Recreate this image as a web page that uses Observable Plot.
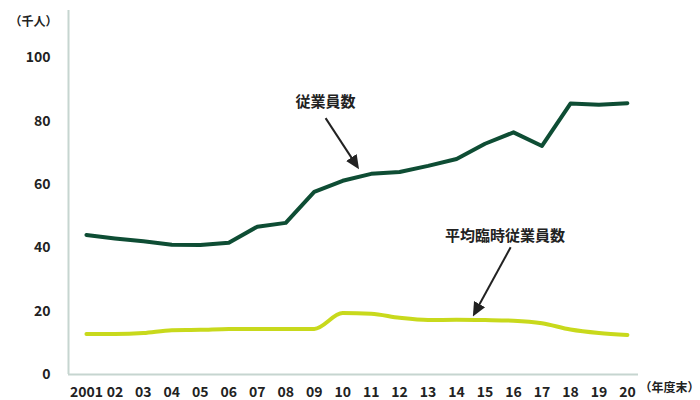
<!DOCTYPE html>
<html>
<head>
<meta charset="utf-8">
<script src="https://cdn.jsdelivr.net/npm/d3@7"></script>
<script src="https://cdn.jsdelivr.net/npm/@observablehq/plot@0.6"></script>
<style>
  html, body { margin: 0; padding: 0; background: #fff; }
  #chart svg { display: block; }
</style>
</head>
<body>
<div id="chart"></div>
<script>
const years = [2001,2002,2003,2004,2005,2006,2007,2008,2009,2010,2011,2012,2013,2014,2015,2016,2017,2018,2019,2020];
const yearLabels = ["2001","02","03","04","05","06","07","08","09","10","11","12","13","14","15","16","17","18","19","20"];
const employees = [44.1,43.0,42.1,41.0,40.9,41.6,46.7,47.9,57.7,61.2,63.4,64.0,65.9,68.1,72.9,76.5,72.2,85.6,85.2,85.7];
const temporary = [12.8,12.8,13.1,14.0,14.1,14.4,14.4,14.4,14.4,19.4,19.2,17.9,17.2,17.3,17.2,17.0,16.2,14.2,13.1,12.5];
const yTicks = [0,20,40,60,80,100];
const annotations = [
  {label: "従業員数", x: 2009.4, y: 86.1, x1: 2009.4, y1: 81.0, x2: 2010.44, y2: 66.7},
  {label: "平均臨時従業員数", x: 2015.7, y: 43.8, x1: 2015.9, y1: 40.2, x2: 2014.69, y2: 20.3}
];

const font = "'Noto Sans CJK JP', 'Noto Sans', sans-serif";
const xMin = 2000.37, xMax = 2020.39;
const empData = years.map((y, i) => ({year: y, value: employees[i]}));
const tmpData = years.map((y, i) => ({year: y, value: temporary[i]}));

const plot = Plot.plot({
  width: 700,
  height: 400,
  marginLeft: 68,
  marginRight: 62,
  marginTop: 10,
  marginBottom: 26,
  style: {fontFamily: font, background: "#fff"},
  x: {domain: [xMin, xMax], ticks: years, tickFormat: (d) => yearLabels[years.indexOf(d)], tickSize: 0, tickPadding: 13, label: null},
  y: {domain: [0, 115], ticks: yTicks, tickSize: 0, tickPadding: 18, label: null},
  marks: [
    Plot.ruleY([0], {stroke: "#c6d5d0", strokeWidth: 2}),
    Plot.ruleX([xMin], {stroke: "#c6d5d0", strokeWidth: 2}),
    Plot.line(tmpData, {x: "year", y: "value", stroke: "#c8d91c", strokeWidth: 4, curve: "monotone-x"}),
    Plot.line(empData, {x: "year", y: "value", stroke: "#0e4d34", strokeWidth: 4}),
    Plot.link(annotations, {x1: "x1", y1: "y1", x2: "x2", y2: "y2", stroke: "#222", strokeWidth: 2, markerEnd: "arrow"}),
    Plot.text(annotations, {x: "x", y: "y", text: "label", fontSize: 15, fontWeight: "bold", fill: "#222"}),
    Plot.text(["（千人）"], {frameAnchor: "top-left", textAnchor: "middle", dx: -35, dy: 7, text: d => d, fontSize: 12, fontWeight: "bold", fill: "#222"}),
    Plot.text(["（年度末）"], {frameAnchor: "bottom-right", textAnchor: "start", dx: 1, dy: 17, text: d => d, fontSize: 12, fontWeight: "bold", fill: "#222"})
  ]
});

d3.select(plot).selectAll("g[aria-label='x-axis tick label'], g[aria-label='y-axis tick label'], g[aria-label='x-axis'], g[aria-label='y-axis']")
  .attr("font-size", 14).attr("font-weight", "bold").attr("fill", "#222");

// filled arrowheads
d3.select(plot).selectAll("marker").each(function() {
  const m = d3.select(this);
  m.attr("fill", "#222").attr("stroke", "none").attr("markerWidth", 7).attr("markerHeight", 7);
  m.selectAll("path").attr("d", "M-5,-4.5L5,0L-5,4.5Z").attr("fill", "#222").attr("stroke", "none");
});

document.getElementById("chart").appendChild(plot);
</script>
</body>
</html>
